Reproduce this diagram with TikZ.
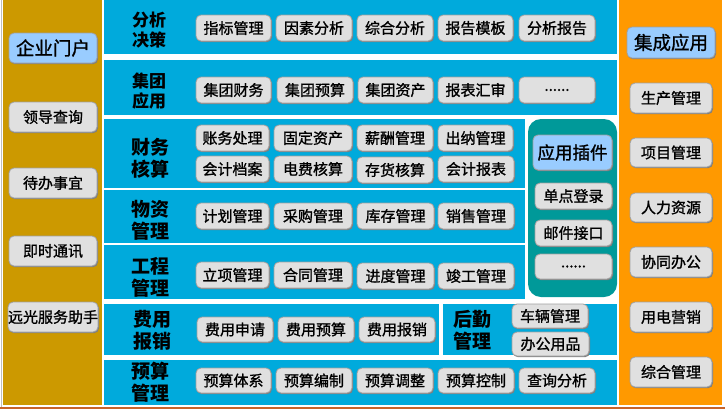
\documentclass[tikz,border=0pt]{standalone}
\usepackage{fontspec}
\setmainfont{Noto Sans CJK SC}
\newfontfamily\btnfont[FakeBold=1.2]{Noto Sans CJK SC}
\usetikzlibrary{shadows}
\definecolor{gold}{HTML}{CC9900}
\definecolor{rowblue}{HTML}{00AADC}
\definecolor{orangecol}{HTML}{FF9900}
\definecolor{tealcol}{HTML}{009999}
\definecolor{btnfill}{HTML}{E0E0E0}
\definecolor{btnedge}{HTML}{A0A0A0}
\definecolor{hifill}{HTML}{99CCFF}
\definecolor{shadowgray}{HTML}{7F7F7F}
\definecolor{bottomline}{HTML}{C8642A}
\definecolor{edgegray}{HTML}{BFBFBF}
\tikzset{
  btn/.style={draw=btnedge, fill=btnfill, rounded corners=5pt, line width=0.8pt,
    inner sep=0pt, font=\btnfont\fontsize{15}{15}\selectfont,
    general shadow={fill=shadowgray, shadow xshift=1pt, shadow yshift=-1.2pt}},
  hbtn/.style={btn, fill=hifill, font=\btnfont\fontsize{18.5}{18.5}\selectfont},
  pbtn/.style={btn, fill=hifill, font=\btnfont\fontsize{17.5}{17.5}\selectfont},
  lbl/.style={align=center, inner sep=0pt, font=\bfseries\fontsize{19}{22}\selectfont},
  slbl/.style={align=center, inner sep=0pt, font=\bfseries\fontsize{17}{20}\selectfont},
}
\newcommand\mkbtn[7]{\node[#1, minimum width={#5-#3}, minimum height={#6-#4}] (#2) at ({(#3+#5)/2},{(#4+#6)/2}) {#7};}
\begin{document}
\begin{tikzpicture}[x=1pt,y=-1pt]
\useasboundingbox (0,0) rectangle (725,410);
% backgrounds
\fill[edgegray] (0.5,0) rectangle (2.2,407);
\fill[gold] (3,0) rectangle (102,405);
\fill[orangecol] (619,0) rectangle (722,405);
\fill[rowblue] (104,0) rectangle (617,54);
\fill[rowblue] (104,60) rectangle (617,115);
\fill[rowblue] (104,119) rectangle (525,188);
\fill[rowblue] (104,190) rectangle (525,243);
\fill[rowblue] (104,245) rectangle (525,299);
\fill[rowblue] (104,304) rectangle (439,355);
\fill[rowblue] (443,304) rectangle (617,355);
\fill[rowblue] (104,360) rectangle (617,405);
\fill[tealcol, rounded corners=13pt] (528,119) rectangle (617,297);
\draw[bottomline, line width=2pt] (0,408) -- (725,408);
% left column
\mkbtn{hbtn}{portal}{9}{33}{97}{63}{企业门户}
\mkbtn{btn}{lq}{9}{102}{97}{132}{领导查询}
\mkbtn{btn}{db}{9}{168}{97}{198}{待办事宜}
\mkbtn{btn}{js}{9}{236}{97}{266}{即时通讯}
\mkbtn{btn}{yg}{9}{302}{97}{332}{远光服务助手}
% right column
\mkbtn{hbtn}{integ}{627}{27}{715}{58}{集成应用}
\mkbtn{btn}{sc}{630}{83}{712}{113}{生产管理}
\mkbtn{btn}{xm}{630}{138}{712}{167}{项目管理}
\mkbtn{btn}{rl}{630}{193}{712}{222}{人力资源}
\mkbtn{btn}{xt}{630}{247}{712}{277}{协同办公}
\mkbtn{btn}{yd}{630}{302}{712}{332}{用电营销}
\mkbtn{btn}{zh}{630}{357}{712}{387}{综合管理}
% plugin panel
\mkbtn{pbtn}{plug}{533}{135}{612}{170}{应用插件}
\mkbtn{btn}{dd}{535}{183}{612}{209}{单点登录}
\mkbtn{btn}{yj}{535}{220}{612}{246}{邮件接口}
\mkbtn{btn}{pm}{535}{254}{612}{279}{......}
% row labels
\node[slbl] (l1) at (149,30) {分析\\决策};
\node[slbl] (l2) at (149,91) {集团\\应用};
\node[lbl] (l3) at (150,158) {财务\\核算};
\node[lbl] (l4) at (150,220) {物资\\管理};
\node[lbl] (l5) at (150,277) {工程\\管理};
\node[lbl] (l6) at (152,330) {费用\\报销};
\node[lbl] (l7) at (150,382) {预算\\管理};
\node[lbl] (l8) at (472,330) {后勤\\管理};
% row 1
\mkbtn{btn}{a1}{196}{15}{271}{41}{指标管理}
\mkbtn{btn}{a2}{276}{15}{352}{41}{因素分析}
\mkbtn{btn}{a3}{357}{15}{433}{41}{综合分析}
\mkbtn{btn}{a4}{438}{15}{513}{41}{报告模板}
\mkbtn{btn}{a5}{519}{15}{595}{41}{分析报告}
% row 2
\mkbtn{btn}{b1}{196}{77}{271}{103}{集团财务}
\mkbtn{btn}{b2}{277}{77}{353}{103}{集团预算}
\mkbtn{btn}{b3}{358}{77}{433}{103}{集团资产}
\mkbtn{btn}{b4}{438}{77}{513}{103}{报表汇审}
\mkbtn{btn}{b5}{519}{77}{595}{103}{......}
% row 3
\mkbtn{btn}{c1}{196}{125}{269}{151}{账务处理}
\mkbtn{btn}{c2}{274}{125}{352}{151}{固定资产}
\mkbtn{btn}{c3}{357}{125}{433}{151}{薪酬管理}
\mkbtn{btn}{c4}{438}{125}{513}{151}{出纳管理}
\mkbtn{btn}{c5}{196}{156}{269}{182}{会计档案}
\mkbtn{btn}{c6}{274}{156}{352}{182}{电费核算}
\mkbtn{btn}{c7}{357}{157}{433}{183}{存货核算}
\mkbtn{btn}{c8}{438}{156}{514}{182}{会计报表}
% row 4
\mkbtn{btn}{d1}{196}{203}{269}{229}{计划管理}
\mkbtn{btn}{d2}{274}{203}{352}{229}{采购管理}
\mkbtn{btn}{d3}{357}{203}{434}{229}{库存管理}
\mkbtn{btn}{d4}{438}{203}{514}{229}{销售管理}
% row 5
\mkbtn{btn}{e1}{196}{262}{269}{288}{立项管理}
\mkbtn{btn}{e2}{274}{262}{352}{288}{合同管理}
\mkbtn{btn}{e3}{357}{263}{434}{289}{进度管理}
\mkbtn{btn}{e4}{438}{263}{514}{289}{竣工管理}
% row 6
\mkbtn{btn}{f1}{197}{317}{273}{342}{费用申请}
\mkbtn{btn}{f2}{278}{317}{354}{342}{费用预算}
\mkbtn{btn}{f3}{359}{317}{435}{342}{费用报销}
\mkbtn{btn}{g1}{512}{304}{588}{328}{车辆管理}
\mkbtn{btn}{g2}{512}{332}{589}{356}{办公用品}
% row 7
\mkbtn{btn}{h1}{196}{368}{271}{393}{预算体系}
\mkbtn{btn}{h2}{276}{368}{352}{393}{预算编制}
\mkbtn{btn}{h3}{357}{368}{433}{393}{预算调整}
\mkbtn{btn}{h4}{438}{368}{514}{393}{预算控制}
\mkbtn{btn}{h5}{519}{368}{595}{393}{查询分析}
\end{tikzpicture}
\end{document}
